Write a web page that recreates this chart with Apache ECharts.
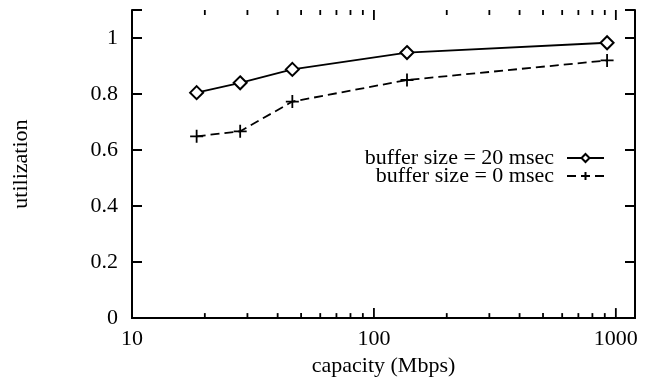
<!DOCTYPE html>
<html><head><meta charset="utf-8">
<script src="https://cdn.jsdelivr.net/npm/echarts@6/dist/echarts.min.js"></script>
<style>html,body{margin:0;padding:0;background:#fff}#c{width:650px;height:382px}</style>
</head><body><div id="c"></div>
<script>
const seriesNames = ['buffer size = 20 msec', 'buffer size = 0 msec'];
const capacity20 = [18.5, 28, 46, 137, 920];
const util20 = [0.805, 0.84, 0.888, 0.948, 0.983];
const capacity0 = [18.5, 28, 46, 137, 920];
const util0 = [0.649, 0.667, 0.773, 0.85, 0.92];
const xMajorTicks = [10, 100, 1000];
const xMinorTicks = [20, 30, 40, 50, 60, 70, 80, 90, 200, 300, 400, 500, 600, 700, 800, 900];
const xRange = [10, 1200];
const yRange = [0, 1.1];
const xTitle = 'capacity (Mbps)';
const yTitle = 'utilization';

const FONT = 'Liberation Serif';
const chart = echarts.init(document.getElementById('c'), null, {renderer: 'canvas'});
const isPow10 = v => Math.abs(Math.log10(v) - Math.round(Math.log10(v))) < 1e-6;
const axisLine = {show: true, lineStyle: {color: '#000', width: 2}};
const labelStyle = {fontFamily: FONT, fontSize: 22, color: '#000'};

const tickData = xMajorTicks.map(v => [v, 0, 10]).concat(xMinorTicks.map(v => [v, 0, 5]));

chart.setOption({
  animation: false,
  backgroundColor: '#fff',
  grid: {left: 132, right: 15, top: 10, bottom: 59, containLabel: false},
  legend: {
    data: seriesNames,
    orient: 'vertical',
    align: 'right',
    right: 40,
    top: 142,
    itemWidth: 37,
    itemHeight: 10,
    itemGap: -4,
    textStyle: {fontFamily: FONT, fontSize: 22, color: '#000', lineHeight: 18, padding: [0, 8, 0, 0]}
  },
  xAxis: [{
    type: 'log', logBase: 10, min: xRange[0], max: xRange[1],
    name: xTitle, nameLocation: 'middle', nameGap: 36,
    nameTextStyle: labelStyle,
    axisLine: axisLine,
    axisTick: {show: false},
    axisLabel: Object.assign({margin: 10, formatter: v => isPow10(v) ? String(Math.round(v)) : ''}, labelStyle),
    splitLine: {show: false}
  }, {
    type: 'log', logBase: 10, min: xRange[0], max: xRange[1], position: 'top',
    axisLine: axisLine,
    axisTick: {show: false},
    axisLabel: {show: false},
    splitLine: {show: false}
  }],
  yAxis: [{
    type: 'value', min: yRange[0], max: yRange[1], interval: 0.2,
    name: yTitle, nameLocation: 'middle', nameGap: 100, nameRotate: 90,
    nameTextStyle: labelStyle,
    axisLine: axisLine,
    axisTick: {show: true, inside: true, length: 10, lineStyle: {color: '#000', width: 2}},
    axisLabel: Object.assign({margin: 14, formatter: v => v > 1.05 ? '' : String(Math.round(v * 10) / 10)}, labelStyle),
    splitLine: {show: false}
  }, {
    type: 'value', min: yRange[0], max: yRange[1], interval: 0.2, position: 'right',
    axisLine: axisLine,
    axisTick: {show: true, inside: true, length: 10, lineStyle: {color: '#000', width: 2}},
    axisLabel: {show: false},
    splitLine: {show: false}
  }],
  series: [{
    name: seriesNames[0], type: 'line',
    data: capacity20.map((x, i) => [x, util20[i]]),
    symbol: 'emptyDiamond', symbolSize: 13,
    color: '#000',
    lineStyle: {color: '#000', width: 1.8, type: 'solid'},
    itemStyle: {color: '#000', borderColor: '#000', borderWidth: 1.8},
    z: 3
  }, {
    name: seriesNames[1], type: 'line',
    data: capacity0.map((x, i) => [x, util0[i]]),
    symbol: 'path://M0,6L12,6M6,0L6,12', symbolSize: 13,
    color: '#000',
    lineStyle: {color: '#000', width: 1.8, type: [9, 5]},
    itemStyle: {color: '#000', borderColor: '#000', borderWidth: 1.8},
    z: 3
  }, {
    type: 'custom', name: 'xTicks', silent: true,
    data: tickData,
    encode: {x: 0, y: 1},
    clip: false,
    renderItem: function (params, api) {
      const v = api.value(0);
      const len = api.value(2);
      const b = api.coord([v, yRange[0]]);
      const t = api.coord([v, yRange[1]]);
      return {type: 'group', children: [
        {type: 'line', shape: {x1: b[0], y1: b[1], x2: b[0], y2: b[1] - len}, style: {stroke: '#000', lineWidth: 1.8}},
        {type: 'line', shape: {x1: t[0], y1: t[1], x2: t[0], y2: t[1] + len}, style: {stroke: '#000', lineWidth: 1.8}}
      ]};
    },
    z: 2
  }]
});
</script></body></html>
